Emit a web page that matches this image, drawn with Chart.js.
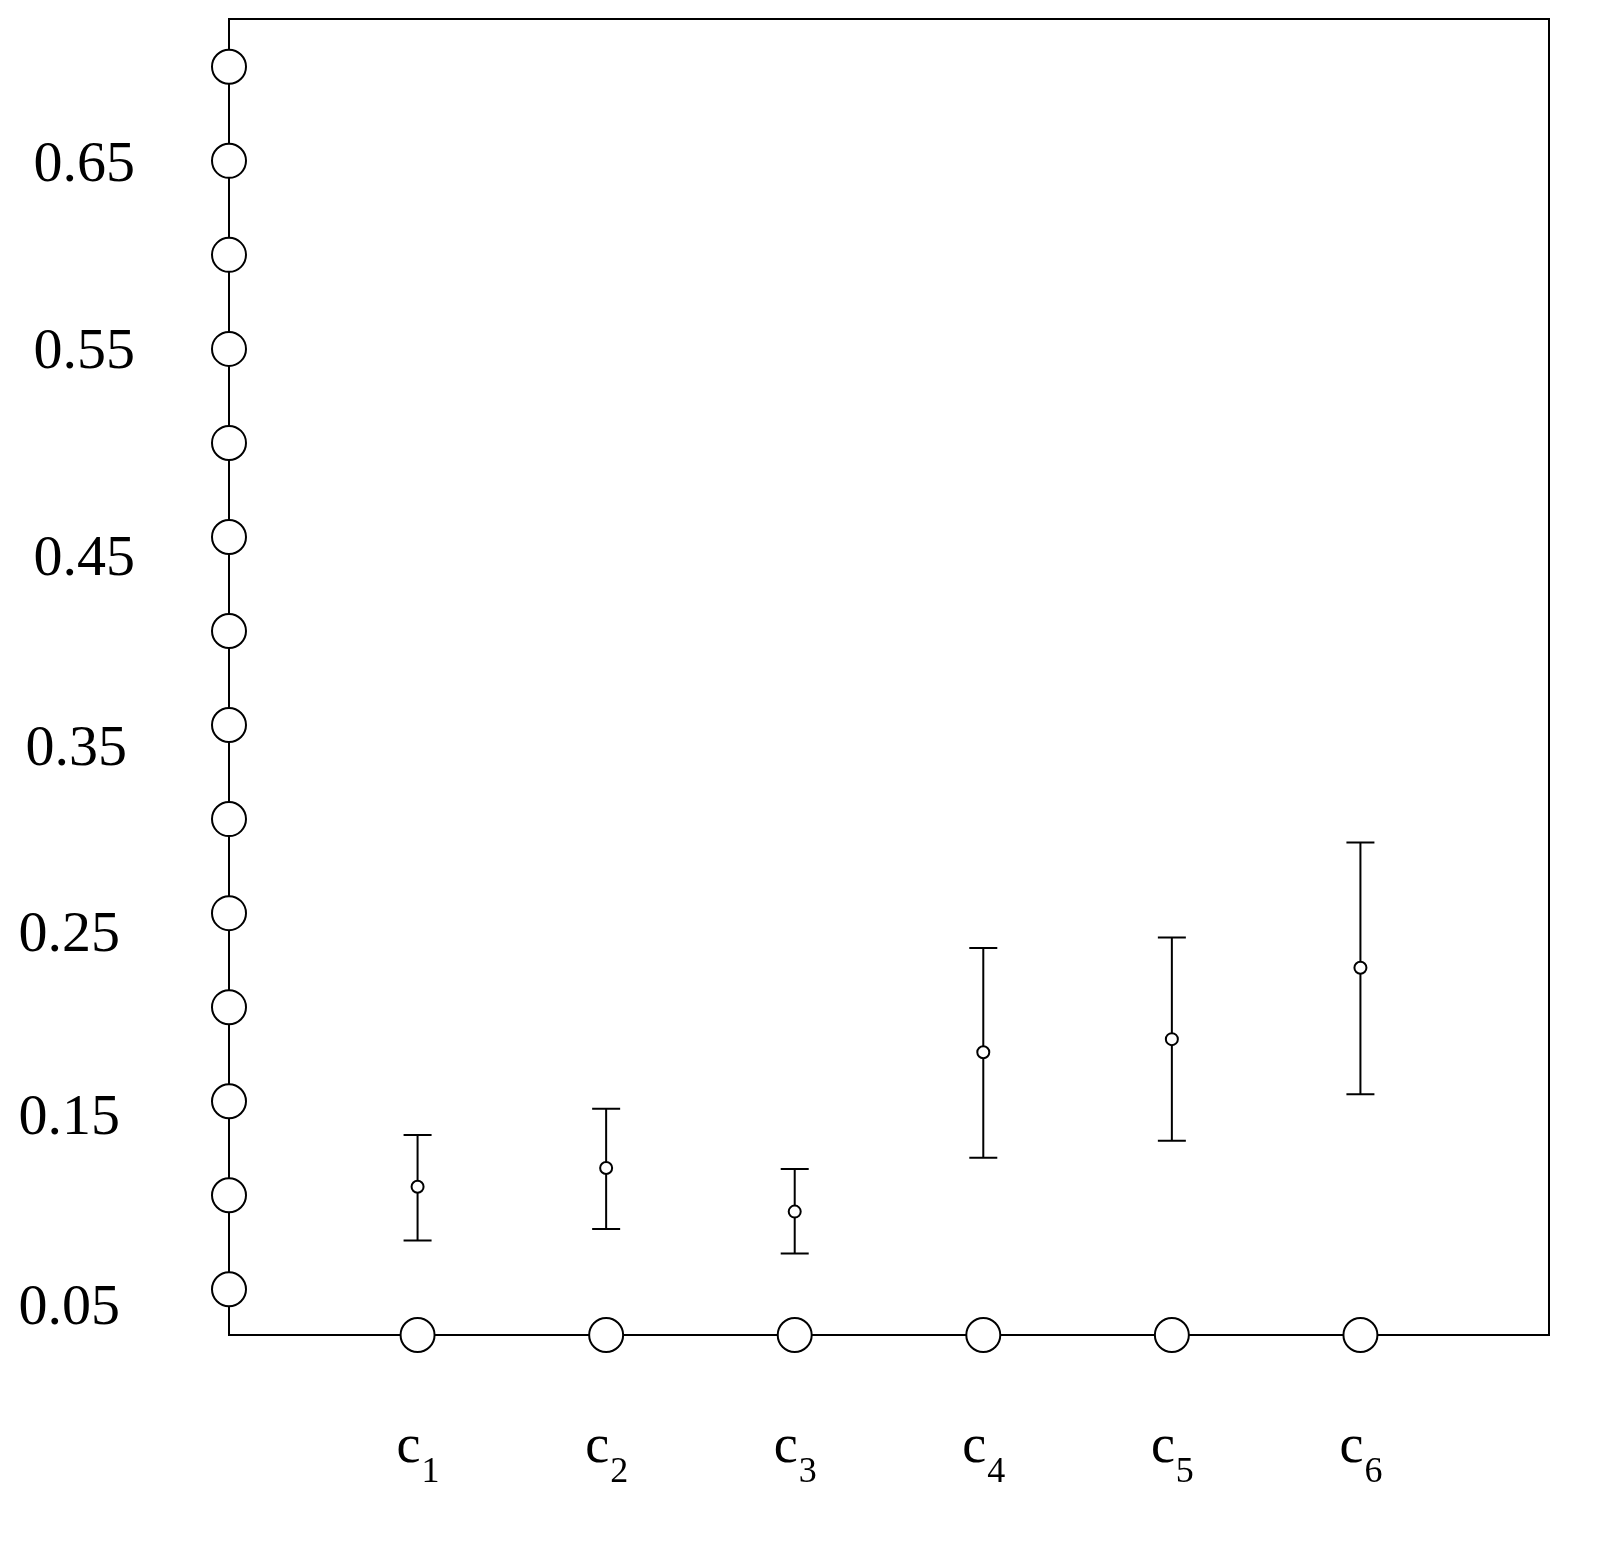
<!DOCTYPE html>
<html><head><meta charset="utf-8">
<script src="https://cdn.jsdelivr.net/npm/chart.js@4"></script>
<style>html,body{margin:0;padding:0;background:#fff}#w{width:1621px;height:1558px}</style>
</head><body><div id="w"><canvas id="c"></canvas></div>
<script>
const categories = ['1','2','3','4','5','6'];
const means = [0.1045, 0.1145, 0.0913, 0.176, 0.183, 0.221];
const upper = [0.132, 0.146, 0.114, 0.2315, 0.237, 0.2876];
const lower = [0.076, 0.082, 0.069, 0.120, 0.129, 0.1537];
const yTicks = [0.05,0.10,0.15,0.20,0.25,0.30,0.35,0.40,0.45,0.50,0.55,0.60,0.65,0.70];
const yLabels = ['0.05','0.15','0.25','0.35','0.45','0.55','0.65'];
const Y_MIN = 0.0257, Y_MAX = 0.7254;

const deco = {
  id:'deco',
  beforeDatasetsDraw(ch){
    const {ctx, chartArea:a, scales:{x,y}} = ch;
    ctx.save();
    ctx.strokeStyle='#000'; ctx.lineWidth=2;
    ctx.strokeRect(a.left,a.top,a.right-a.left,a.bottom-a.top);
    categories.forEach((c,i)=>{
      const px=x.getPixelForValue(i+1), t=y.getPixelForValue(upper[i]), b=y.getPixelForValue(lower[i]);
      ctx.beginPath();
      ctx.moveTo(px,t);ctx.lineTo(px,b);
      ctx.moveTo(px-14,t);ctx.lineTo(px+14,t);
      ctx.moveTo(px-14,b);ctx.lineTo(px+14,b);
      ctx.stroke();
    });
    ctx.restore();
  },
  afterDraw(ch){
    const {ctx, scales:{x,y}} = ch;
    const off=[19,18,23,25,23,4,5];
    const rx=[120,120,120,127,135,135,135];
    ctx.save(); ctx.fillStyle='#000';
    ctx.font='58px "Liberation Serif"'; ctx.textAlign='right'; ctx.textBaseline='middle';
    yLabels.forEach((l,i)=>{ ctx.fillText(l,rx[i],y.getPixelForValue(parseFloat(l))+off[i]); });
    categories.forEach((c,i)=>{
      const px=x.getPixelForValue(i+1);
      ctx.textAlign='right'; ctx.font='54px "Liberation Serif"';
      ctx.fillText('c',px+3,1448);
      ctx.textAlign='left'; ctx.font='36px "Liberation Serif"';
      ctx.fillText(c,px+4,1473);
    });
    ctx.restore();
  }
};

new Chart(document.getElementById('c'),{
  type:'scatter',
  data:{datasets:[
    {data:means.map((m,i)=>({x:i+1,y:m})),pointRadius:6,borderColor:'#000',backgroundColor:'#fff',borderWidth:2,clip:false},
    {data:categories.map((c,i)=>({x:i+1,y:Y_MIN})),pointRadius:17,borderColor:'#000',backgroundColor:'#fff',borderWidth:2,clip:false},
    {data:yTicks.map(v=>({x:0,y:v})),pointRadius:17,borderColor:'#000',backgroundColor:'#fff',borderWidth:2,clip:false}
  ]},
  options:{
    responsive:true,maintainAspectRatio:false,animation:false,
    layout:{padding:{left:229,top:13,right:72,bottom:223}},
    plugins:{legend:{display:false},tooltip:{enabled:false}},
    scales:{
      x:{type:'linear',min:0,max:7,display:false},
      y:{type:'linear',min:Y_MIN,max:Y_MAX,display:false}
    }
  },
  plugins:[deco]
});
</script></body></html>
